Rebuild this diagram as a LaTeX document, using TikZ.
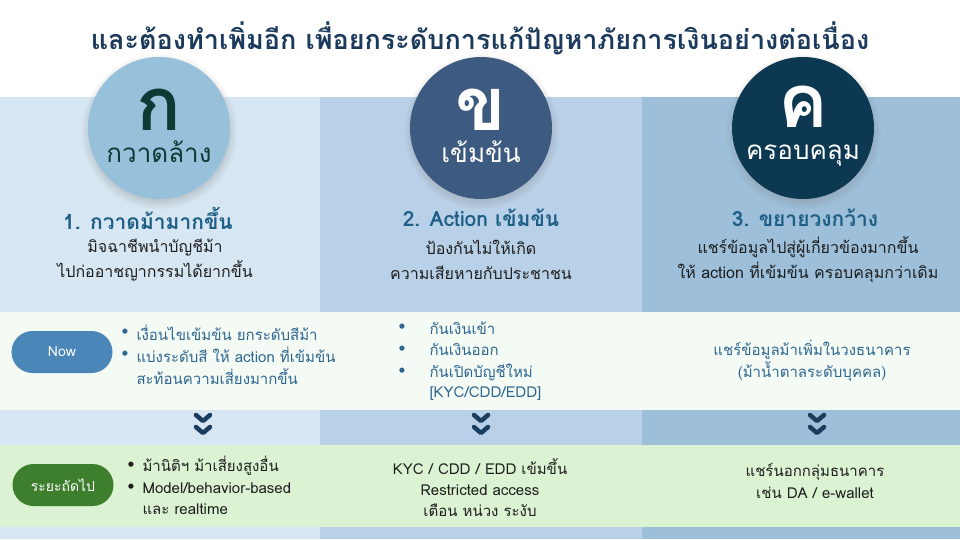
\documentclass[tikz,border=0pt]{standalone}
\usepackage{fontspec}
\setmainfont[Script=Thai]{Loma}
\usetikzlibrary{shadows}

\definecolor{titlenavy}{HTML}{1B3A5C}
\definecolor{colA}{HTML}{D6E7F3}
\definecolor{colB}{HTML}{B9D1E8}
\definecolor{colC}{HTML}{9DBFDA}
\definecolor{nowbg}{HTML}{F4FBF5}
\definecolor{nextbg}{HTML}{DCF3D3}
\definecolor{circA}{HTML}{97C0DA}
\definecolor{circB}{HTML}{3D5A80}
\definecolor{circC}{HTML}{0C3852}
\definecolor{letterA}{HTML}{0E3A36}
\definecolor{headblue}{HTML}{1F5F86}
\definecolor{nowtext}{HTML}{2F6690}
\definecolor{nowpill}{HTML}{4A86B8}
\definecolor{nextpill}{HTML}{3D7F2C}
\definecolor{chevron}{HTML}{1A3D5E}
\definecolor{bodytext}{HTML}{1E1E1E}

\tikzset{
  badge/.style={circle, minimum size=142, inner sep=0pt,
    circular drop shadow={shadow xshift=0pt, shadow yshift=-3pt, opacity=0.35}},
  badgetext/.style={align=center, inner sep=0pt, font=\fontsize{26}{32}\selectfont},
  pill/.style={rounded corners=21, minimum width=101, minimum height=42,
    inner sep=0pt, text=white, font=\fontsize{14}{16}\selectfont},
  heading/.style={text=headblue, font=\bfseries\fontsize{21}{24}\selectfont},
  desc/.style={text=bodytext, align=center, font=\fontsize{16}{25}\selectfont},
  nowitem/.style={text=nowtext, anchor=west, font=\fontsize{15}{18}\selectfont},
  nextitem/.style={text=bodytext, anchor=west, font=\fontsize{15}{18}\selectfont},
  dot/.style={anchor=center, font=\fontsize{15}{18}\selectfont},
}

\begin{document}
\begin{tikzpicture}[x=1pt, y=-1pt]
  \useasboundingbox (0,0) rectangle (960,539);
  \fill[white] (0,0) rectangle (960,539);
  % column bands
  \fill[colA] (0,97) rectangle (320,539);
  \fill[colB] (320,97) rectangle (642,539);
  \fill[colC] (642,97) rectangle (960,539);
  % rows
  \fill[nowbg] (0,312) rectangle (960,410);
  \fill[nextbg] (0,445) rectangle (960,527);

  \node[text=titlenavy, font=\bfseries\fontsize{27}{30}\selectfont] (title) at (480,38)
    {และต้องทำเพิ่มอีก เพื่อยกระดับการแก้ปัญหาภัยการเงินอย่างต่อเนื่อง};

  % badges
  \foreach \cx/\fc/\tc/\ltr/\lbl/\nm in {159/circA/letterA/ก/กวาดล้าง/a,
      481/circB/white/ข/เข้มข้น/b, 803/circC/white/ค/ครอบคลุม/c} {
    \node[badge, fill=\fc] (badge\nm) at (\cx,128) {};
    \node[badgetext, text=\tc] (label\nm) at (\cx,126)
      {{\fontsize{74}{74}\selectfont\bfseries \ltr}\\ \lbl};
  }

  % headings and descriptions
  \node[heading] (headA) at (148,218) {1. กวาดม้ามากขึ้น};
  \node[heading] (headB) at (481,218) {2. Action เข้มข้น};
  \node[heading] (headC) at (805,218) {3. ขยายวงกว้าง};
  \node[desc] (descA) at (155,260) {มิจฉาชีพนำบัญชีม้า\\ไปก่ออาชญากรรมได้ยากขึ้น};
  \node[desc] (descB) at (481,260) {ป้องกันไม่ให้เกิด\\ความเสียหายกับประชาชน};
  \node[desc] (descC) at (808,260) {แชร์ข้อมูลไปสู่ผู้เกี่ยวข้องมากขึ้น\\ให้ action ที่เข้มข้น ครอบคลุมกว่าเดิม};

  % now row
  \node[pill, fill=nowpill] (now) at (62,352) {Now};
  \node[dot, text=nowtext] (nowdotA1) at (125,333) {•};
  \node[dot, text=nowtext] (nowdotA2) at (125,355) {•};
  \node[nowitem] (nowA1) at (133,333) {เงื่อนไขเข้มข้น ยกระดับสีม้า};
  \node[nowitem] (nowA2) at (133,355) {แบ่งระดับสี ให้ action ที่เข้มข้น};
  \node[nowitem] (nowA3) at (133,377) {สะท้อนความเสี่ยงมากขึ้น};
  \foreach \ty/\tx/\nm in {328/กันเงินเข้า/1, 350/กันเงินออก/2, 372/กันเปิดบัญชีใหม่/3} {
    \node[dot, text=nowtext] (nowdotB\nm) at (402,\ty) {•};
    \node[nowitem] (nowB\nm) at (426,\ty) {\tx};
  }
  \node[nowitem] (nowB4) at (426,394) {[KYC/CDD/EDD]};
  \node[text=nowtext, align=center, font=\fontsize{15}{22}\selectfont] (nowC) at (812,361)
    {แชร์ข้อมูลม้าเพิ่มในวงธนาคาร\\(ม้าน้ำตาลระดับบุคคล)};

  % chevrons
  \foreach \cx in {203,481,817} {
    \draw[chevron, line width=4.5pt, line cap=round, line join=round]
      (\cx-7,415) -- (\cx,421) -- (\cx+7,415);
    \draw[chevron, line width=4.5pt, line cap=round, line join=round]
      (\cx-7,427) -- (\cx,433) -- (\cx+7,427);
  }

  % next row
  \node[pill, fill=nextpill] (next) at (63,485) {ระยะถัดไป};
  \node[dot, text=bodytext] (nextdotA1) at (131,466) {•};
  \node[dot, text=bodytext] (nextdotA2) at (131,488) {•};
  \node[nextitem] (nextA1) at (139,466) {ม้านิติฯ ม้าเสี่ยงสูงอื่น};
  \node[nextitem] (nextA2) at (139,488) {Model/behavior-based};
  \node[nextitem] (nextA3) at (139,509) {และ realtime};
  \node[text=bodytext, align=center, font=\fontsize{15}{21}\selectfont] (nextB) at (480,488)
    {KYC / CDD / EDD เข้มขึ้น\\Restricted access\\เตือน หน่วง ระงับ};
  \node[text=bodytext, align=center, font=\fontsize{15}{22}\selectfont] (nextC) at (815,481)
    {แชร์นอกกลุ่มธนาคาร\\เช่น DA / e-wallet};
\end{tikzpicture}
\end{document}
